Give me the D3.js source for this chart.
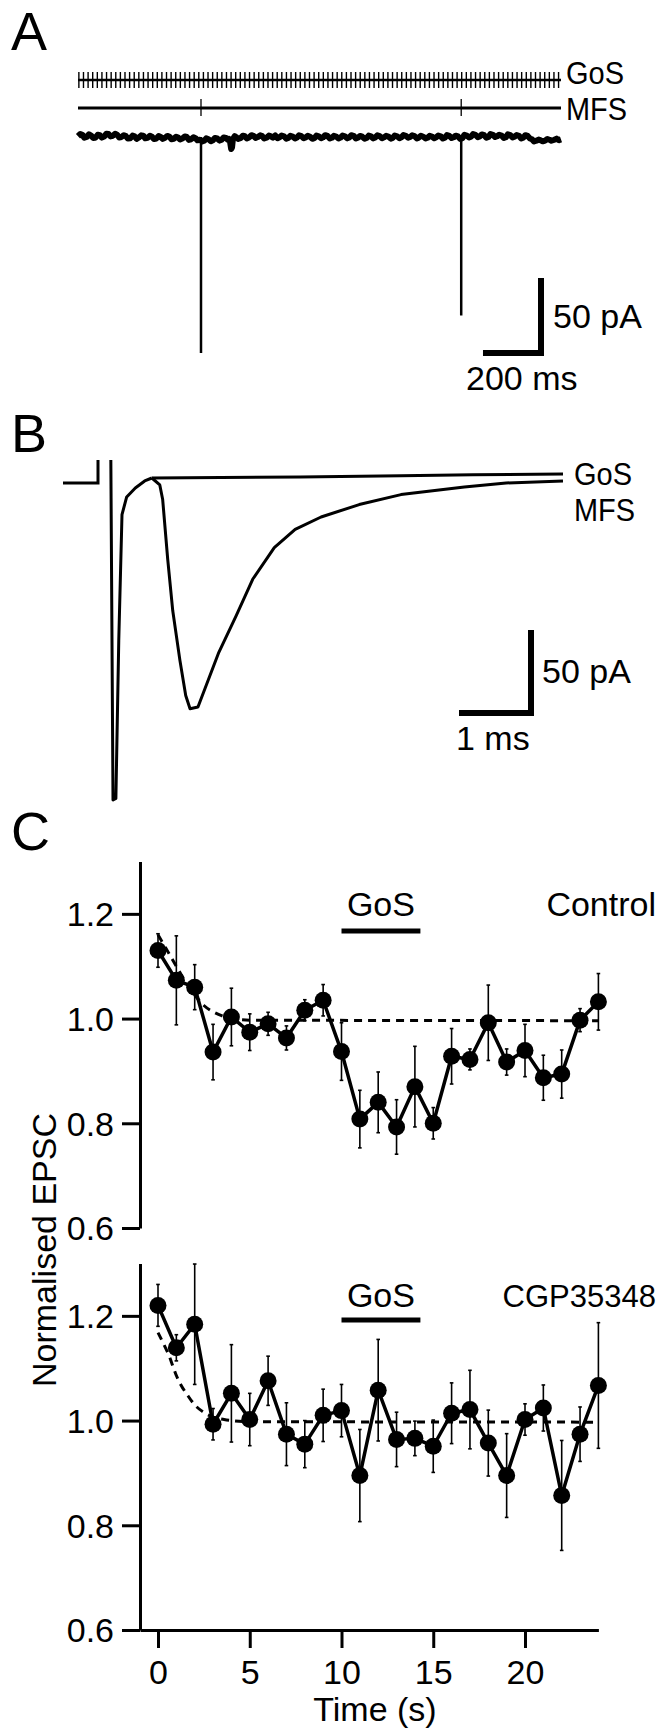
<!DOCTYPE html>
<html><head><meta charset="utf-8">
<script src="https://cdn.jsdelivr.net/npm/d3@7"></script>
<style>
body{margin:0;background:#fff}
text{font-family:"Liberation Sans",Arial,Helvetica,sans-serif;fill:#000}
</style>
</head><body>
<svg id="fig" width="662" height="1729" style="display:block;background:#fff"></svg>
<script>
// ===== Panel A data =====
const gosStimInterval = 15.9;   // ms between Golgi-cell stimuli
const gosStimCount = 105;
const mfsStimTimes = [424, 1321];
const mfsEpscAmp = [-144, -119];
// baseline holding current [ms, pA]
const traceA = [[0,0.5],[8,2],[15,1.5],[22,-0.5],[30,0],[38,1.8],[45,1],[52,-0.6],[60,-0.5],[68,1.5],[75,1.2],[82,-0.4],[90,0.3],[98,2.2],[105,2],[112,0.4],[120,0.8],[128,2.1],[135,1.5],[142,-0.3],[150,0],[158,1.2],[165,0.6],[172,-1],[180,-0.8],[188,0.9],[195,0.4],[202,-1.2],[210,-0.3],[218,1.1],[225,0.9],[232,-0.9],[240,-0.6],[248,0.8],[255,0.2],[262,-1.4],[270,-1],[278,0.6],[285,0],[292,-1.3],[300,-0.5],[308,0.7],[315,0.3],[322,-1.5],[330,-1.2],[338,0.2],[345,-0.4],[352,-1.6],[360,-1],[368,0.4],[375,0],[382,-1.9],[390,-1.5],[398,-0.2],[405,-0.8],[412,-2.2],[420,-1.8],[428,-3],[435,-2.5],[442,-0.9],[450,-1.5],[458,-2.8],[465,-2.2],[472,-0.6],[480,-1],[488,-2.4],[495,-1.8],[502,-0.3],[510,-0.6],[516,-1.8],[520,-1.2],[524,-3],[528,-8],[531,-7],[534,-1.5],[540,0.6],[545,0],[552,-1.3],[560,-0.8],[568,0.9],[575,0.5],[582,-0.9],[590,-0.3],[598,1.2],[605,0.8],[612,-0.6],[620,0],[628,1.1],[635,0.6],[642,-1],[650,-0.5],[658,0.9],[665,0.4],[672,-0.4],[680,1],[688,-0.8],[695,-0.2],[702,1],[710,0.5],[718,-1.1],[725,-0.6],[732,0.8],[740,0.3],[748,-1],[755,-0.4],[762,1.1],[770,0.6],[778,-0.8],[785,-0.3],[792,0.8],[800,0.2],[808,-1.2],[815,-0.8],[822,0.9],[830,0.4],[838,-0.8],[845,-0.2],[852,1.2],[860,0.7],[868,-1],[875,-0.5],[882,0.8],[890,0.3],[898,-1],[905,-0.4],[912,1],[920,0.5],[928,-0.9],[935,-0.3],[942,1.2],[950,0.8],[958,-1],[965,-0.5],[972,0.7],[980,0.2],[988,-1.1],[995,-0.6],[1002,0.9],[1010,0.4],[1018,-0.9],[1025,-0.3],[1032,1.1],[1040,0.6],[1048,-0.8],[1055,-0.2],[1062,0.8],[1070,0.3],[1078,-1.1],[1085,-0.6],[1092,1],[1100,0.5],[1108,-0.8],[1115,-0.2],[1122,1.3],[1130,0.8],[1138,-0.5],[1145,0],[1152,1.1],[1160,0.6],[1168,-0.9],[1175,-0.4],[1182,0.8],[1190,0.2],[1198,-1],[1205,-0.5],[1212,0.8],[1220,0.3],[1228,-0.8],[1235,-0.2],[1242,1],[1250,0.5],[1258,-1],[1265,-0.5],[1272,1.3],[1280,0.8],[1288,-0.7],[1295,-0.2],[1302,0.9],[1310,0.4],[1318,-1.3],[1325,-0.8],[1332,1.5],[1340,1],[1348,-0.3],[1355,0.2],[1362,1.9],[1370,1.4],[1378,-0.1],[1385,0.4],[1392,1.7],[1400,1.2],[1408,-0.5],[1415,0],[1422,2],[1430,1.5],[1438,0],[1445,0.5],[1452,1.5],[1460,1],[1468,-0.7],[1475,-0.2],[1482,1.8],[1490,1.3],[1498,-0.3],[1505,0.2],[1512,1.3],[1520,0.8],[1528,-1],[1535,-0.5],[1542,1.2],[1550,0.7],[1558,-1],[1565,-1.5],[1572,-3],[1580,-2.5],[1588,-1.7],[1595,-2.2],[1602,-2.9],[1610,-2.4],[1618,-1.3],[1625,-1.8],[1632,-2.5],[1640,-2],[1650,-1.1],[1658,-2.1],[1665,-1.6]];
const traceAEnd = 1665;

// ===== Panel B data ([ms, pA]) =====
const artefactB = [[-0.03,10.8],[0,-194],[0.04,-193],[0.08,-98],[0.125,-22],[0.19,-11.4],[0.31,-6],[0.44,-1.8],[0.54,0]];
const gosTraceB = [[0.54,0],[1.5,0.3],[2.6,0.6],[4,1.4],[5,2],[6.25,2.4]];
const mfsTraceB = [[0.54,0],[0.65,-4.2],[0.69,-13],[0.76,-49],[0.83,-80],[0.93,-110],[1.01,-131],[1.07,-139],[1.18,-138],[1.47,-105],[1.71,-83],[1.94,-61],[2.24,-42],[2.53,-31],[2.89,-23.5],[3.42,-16],[4.0,-10],[4.88,-5.4],[5.46,-3],[6.25,-1.8]];

// ===== Panel C data =====
const timeC = [0,1,2,3,4,5,6,7,8,9,10,11,12,13,14,15,16,17,18,19,20,21,22,23,24];
const ctrlMean = [1.13,1.073,1.06,0.936,1.003,0.974,0.99,0.963,1.016,1.035,0.937,0.808,0.84,0.793,0.87,0.80,0.928,0.922,0.992,0.917,0.939,0.887,0.894,0.997,1.032];
const ctrlErr  = [0.032,0.085,0.043,0.053,0.055,0.035,0.022,0.023,0.02,0.03,0.055,0.055,0.058,0.052,0.077,0.03,0.053,0.02,0.072,0.025,0.05,0.043,0.046,0.022,0.054];
const cgpMean  = [1.22,1.139,1.184,0.993,1.052,1.002,1.076,0.974,0.955,1.01,1.019,0.895,1.058,0.964,0.966,0.951,1.014,1.021,0.957,0.895,1.002,1.024,0.857,0.974,1.067];
const cgpErr   = [0.04,0.025,0.115,0.03,0.093,0.05,0.047,0.06,0.045,0.05,0.05,0.088,0.097,0.052,0.033,0.05,0.058,0.075,0.063,0.08,0.03,0.044,0.105,0.052,0.12];
const ctrlFitT = [0,0.5,1,1.5,2,2.5,3,3.5,4,5,24];
const ctrlFitV = [1.16,1.13,1.10,1.07,1.045,1.025,1.013,1.005,1.0,0.997,0.996];
const cgpFitT  = [0,0.35,0.6,0.8,1.0,1.25,1.6,2.0,2.4,2.9,3.6,5,24];
const cgpFitV  = [1.168,1.143,1.124,1.105,1.086,1.068,1.049,1.03,1.018,1.008,1.002,0.998,0.997];
const gosBar = [10, 14.3];
const yTickVals = [0.6, 0.8, 1.0, 1.2];
const xTickVals = [0, 5, 10, 15, 20];

// ===== drawing =====
const svg = d3.select('#fig');
const FS = 34;
function label(x, y, s, size, anchor, len){
  const t = svg.append('text').attr('x',x).attr('y',y).attr('font-size',size||FS)
    .attr('text-anchor',anchor||'start').text(s);
  if (len) t.attr('textLength',len).attr('lengthAdjust','spacingAndGlyphs');
  return t;
}

// ---------- Panel A ----------
label(11, 50, 'A', 54);
const xA = d3.scaleLinear().domain([0, traceAEnd]).range([78, 561]);
const yA = d3.scaleLinear().domain([0, -150]).range([137, 362]);
const gA = svg.append('g');
const trainY = 80, mfsY = 108;
gA.append('line').attr('x1',xA(0)).attr('x2',xA(traceAEnd)).attr('y1',trainY).attr('y2',trainY)
  .attr('stroke','#000').attr('stroke-width',2.5);
const gosTimes = d3.range(gosStimCount).map(i => 3 + i*gosStimInterval);
gA.selectAll('.gt').data(gosTimes).join('line')
  .attr('x1',d=>xA(d)).attr('x2',d=>xA(d)).attr('y1',trainY-8).attr('y2',trainY+8)
  .attr('stroke','#000').attr('stroke-width',1.4);
gA.append('line').attr('x1',xA(0)).attr('x2',xA(traceAEnd)).attr('y1',mfsY).attr('y2',mfsY)
  .attr('stroke','#000').attr('stroke-width',3);
gA.selectAll('.mt').data(mfsStimTimes).join('line')
  .attr('x1',d=>xA(d)).attr('x2',d=>xA(d)).attr('y1',mfsY-9).attr('y2',mfsY+8)
  .attr('stroke','#000').attr('stroke-width',1.3);
label(566, 84, 'GoS', 32, 'start', 58);
label(566, 120, 'MFS', 32, 'start', 61);
const lineA = d3.line().x(d=>xA(d[0])).y(d=>yA(d[1]));
gA.append('path').attr('d', lineA(traceA)).attr('fill','none').attr('stroke','#000')
  .attr('stroke-width',6).attr('stroke-linejoin','round');
gA.selectAll('.sp').data(mfsStimTimes).join('line')
  .attr('x1',d=>xA(d)).attr('x2',d=>xA(d)).attr('y1',yA(0)).attr('y2',(d,i)=>yA(mfsEpscAmp[i]))
  .attr('stroke','#000').attr('stroke-width',2.5);
const sbAx = 541, sbAy = 353;
gA.append('path').attr('d', `M${sbAx - (xA(200)-xA(0))},${sbAy} H${sbAx} V${sbAy - (yA(-50)-yA(0))}`)
  .attr('fill','none').attr('stroke','#000').attr('stroke-width',6);
label(553, 328, '50 pA');
label(466, 390, '200 ms');

// ---------- Panel B ----------
label(11, 452, 'B', 54);
const xB = d3.scaleLinear().domain([0, 1]).range([113, 185]);
const yB = d3.scaleLinear().domain([0, -50]).range([478, 561]);
const gB = svg.append('g');
gB.append('path').attr('d','M63,483 H98 V460').attr('fill','none').attr('stroke','#000').attr('stroke-width',3);
const lineB = d3.line().x(d=>xB(d[0])).y(d=>yB(d[1]));
[artefactB, gosTraceB, mfsTraceB].forEach(tr=>{
  gB.append('path').attr('d', lineB(tr)).attr('fill','none').attr('stroke','#000')
    .attr('stroke-width',3).attr('stroke-linejoin','round');
});
label(574, 485, 'GoS', 32, 'start', 58);
label(574, 521, 'MFS', 32, 'start', 61);
const sbBx = 531, sbBy = 713;
gB.append('path').attr('d', `M${sbBx - (xB(1)-xB(0))},${sbBy} H${sbBx} V${sbBy - (yB(-50)-yB(0))}`)
  .attr('fill','none').attr('stroke','#000').attr('stroke-width',6);
label(542, 683, '50 pA');
label(456, 750, '1 ms');

// ---------- Panel C ----------
label(11, 850, 'C', 54);
const xC = d3.scaleLinear().domain([0, 20]).range([158, 525]);
const xAxisScale = xC.copy().domain([xC.invert(140), 24]).range([140, xC(24)]);

function panel(yRange, mean, err, fitT, fitV, name, nameSize, textY, barY, hasXAxis){
  const y = d3.scaleLinear().domain([0.6, 1.3]).range(yRange);
  const g = svg.append('g');
  const ax = g.append('g').attr('transform','translate(140,0)')
    .call(d3.axisLeft(y).tickValues(yTickVals).tickFormat(d3.format('.1f')).tickSize(18).tickSizeOuter(0).tickPadding(8));
  ax.select('.domain').attr('stroke-width',3);
  ax.selectAll('.tick line').attr('stroke-width',3);
  ax.selectAll('.tick text').attr('font-size',FS).attr('font-family','"Liberation Sans",Arial,sans-serif').attr('dy','0.35em');
  if (hasXAxis){
    const bx = g.append('g').attr('transform',`translate(0,${y(0.6)})`)
      .call(d3.axisBottom(xAxisScale).tickValues(xTickVals).tickSize(18).tickSizeOuter(0).tickPadding(12));
    bx.select('.domain').attr('stroke-width',3);
    bx.selectAll('.tick line').attr('stroke-width',3);
    bx.selectAll('.tick text').attr('font-size',FS).attr('font-family','"Liberation Sans",Arial,sans-serif');
  }
  const fit = fitT.map((t,i)=>[t, fitV[i]]);
  g.append('path').attr('d', d3.line().curve(d3.curveMonotoneX).x(d=>xC(d[0])).y(d=>y(d[1]))(fit))
    .attr('fill','none').attr('stroke','#000').attr('stroke-width',3).attr('stroke-dasharray','8,6');
  const eb = g.selectAll('.eb').data(timeC).join('g');
  eb.append('line').attr('x1',d=>xC(d)).attr('x2',d=>xC(d))
    .attr('y1',(d,i)=>y(mean[i]+err[i])).attr('y2',(d,i)=>y(mean[i]-err[i]))
    .attr('stroke','#000').attr('stroke-width',1.6);
  [1,-1].forEach(s=>{
    eb.append('line').attr('x1',d=>xC(d)-1.8).attr('x2',d=>xC(d)+1.8)
      .attr('y1',(d,i)=>y(mean[i]+s*err[i])).attr('y2',(d,i)=>y(mean[i]+s*err[i]))
      .attr('stroke','#000').attr('stroke-width',1.6);
  });
  g.append('path').attr('d', d3.line().x((d,i)=>xC(timeC[i])).y(d=>y(d))(mean))
    .attr('fill','none').attr('stroke','#000').attr('stroke-width',3.5).attr('stroke-linejoin','round');
  g.selectAll('.pt').data(mean).join('circle')
    .attr('cx',(d,i)=>xC(timeC[i])).attr('cy',d=>y(d)).attr('r',8.5).attr('fill','#000');
  g.append('line').attr('x1',xC(gosBar[0])).attr('x2',xC(gosBar[1])).attr('y1',barY).attr('y2',barY)
    .attr('stroke','#000').attr('stroke-width',5);
  label((xC(gosBar[0])+xC(gosBar[1]))/2, textY, 'GoS', FS, 'middle');
  label(656, textY, name, nameSize, 'end');
}
panel([1228, 861.5], ctrlMean, ctrlErr, ctrlFitT, ctrlFitV, 'Control', 34, 916, 931, false);
panel([1630, 1263.5], cgpMean, cgpErr, cgpFitT, cgpFitV, 'CGP35348', 31, 1307, 1320, true);

svg.append('text').attr('transform','translate(56,1250) rotate(-90)').attr('text-anchor','middle')
  .attr('font-size',FS).text('Normalised EPSC');
label(375, 1721, 'Time (s)', FS, 'middle');
</script>
</body></html>
